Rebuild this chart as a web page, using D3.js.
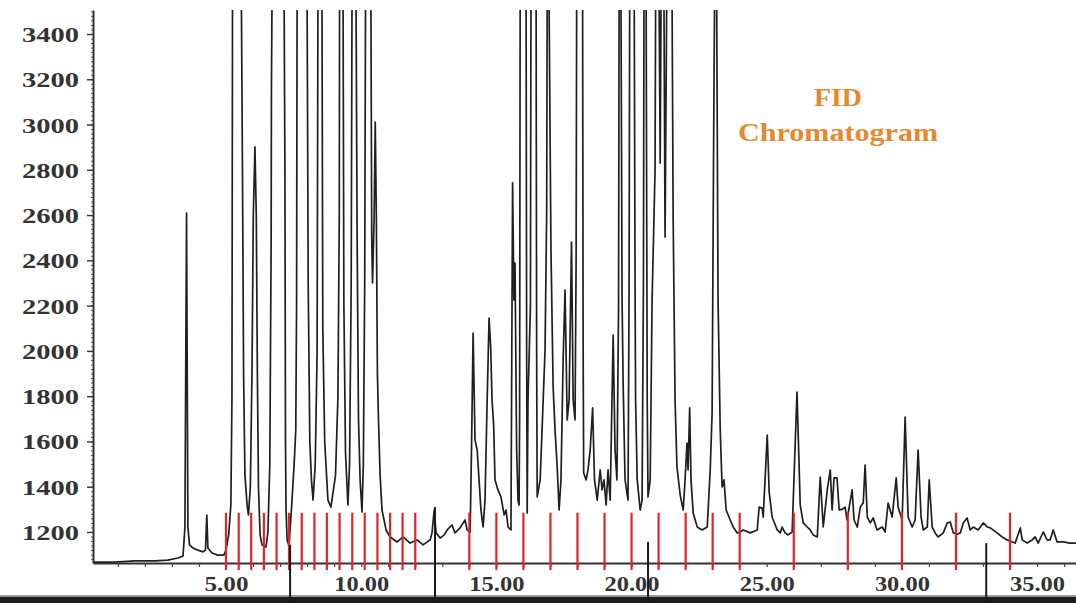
<!DOCTYPE html>
<html>
<head>
<meta charset="utf-8">
<script src="https://cdn.jsdelivr.net/npm/d3@7"></script>
<style>
  html, body { margin: 0; padding: 0; background: #fff; }
  svg { display: block; }
</style>
</head>
<body>
<svg id="chart" width="1076" height="603"></svg>
<script>
// FID trace: [retention time (min), detector response]
const trace = [
  [0.08,1067],[0.89,1067],[1.63,1072],[2.37,1072],[2.85,1076],[3.22,1085],[3.41,1094],
  [3.48,1222],[3.54,2609],[3.59,1222],[3.65,1143],[3.78,1129],[3.96,1120],[4.15,1112],
  [4.24,1120],[4.29,1275],[4.33,1129],[4.48,1107],[4.70,1098],[4.92,1098],
  [5.00,1120],[5.10,1190],[5.18,1320],[5.22,1800],[5.24,3528],[5.41,4300],[5.57,3528],
  [5.61,2768],[5.65,1900],[5.70,1450],[5.78,1319],[5.83,1275],
  [5.90,1400],[5.96,1900],[6.01,2600],[6.07,2901],[6.12,2600],[6.16,1900],[6.20,1400],
  [6.26,1187],[6.33,1143],[6.48,1134],
  [6.55,1200],[6.62,1500],[6.67,2500],[6.68,3153],[6.70,3528],[6.92,4600],[7.15,3528],
  [7.18,2768],[7.20,1600],[7.22,1300],[7.26,1165],[7.33,1138],
  [7.42,1300],[7.52,1500],[7.58,1650],[7.61,2200],[7.63,3528],[7.81,4400],[8.00,3528],
  [8.04,2300],[8.10,1600],[8.16,1430],[8.22,1341],
  [8.30,1500],[8.37,2000],[8.40,3528],[8.48,4200],[8.55,3528],[8.58,2100],[8.65,1600],
  [8.77,1341],[8.88,1310],
  [9.05,1450],[9.14,1800],[9.19,2600],[9.20,3528],[9.25,4300],[9.33,3528],[9.36,2200],
  [9.42,1550],[9.51,1319],
  [9.57,1500],[9.63,2300],[9.66,3528],[9.74,4500],[9.81,3528],[9.85,2500],[9.90,1700],
  [9.96,1430],[10.03,1288],
  [10.08,1500],[10.13,2300],[10.16,3528],[10.25,4200],[10.36,3528],[10.39,2500],
  [10.42,2300],[10.48,2600],[10.52,3011],[10.56,2600],[10.60,1900],[10.64,1695],
  [10.70,1450],[10.77,1297],[10.92,1209],[11.07,1178],
  [11.33,1156],[11.55,1178],[11.81,1151],[12.07,1165],[12.29,1143],[12.55,1165],
  [12.62,1196],[12.70,1297],[12.77,1196],[12.92,1173],[13.07,1187],[13.18,1209],
  [13.36,1231],[13.47,1196],[13.66,1218],[13.84,1253],[13.92,1209],[14.03,1200],
  [14.08,1562],[14.14,2079],[14.21,1606],[14.29,1562],[14.36,1430],[14.43,1297],
  [14.51,1222],[14.58,1341],[14.66,1783],[14.73,2145],[14.79,2017],[14.84,1783],
  [14.90,1673],[14.95,1430],[15.06,1386],[15.17,1355],[15.29,1275],[15.36,1297],
  [15.43,1222],[15.54,1209],[15.60,2742],[15.65,2225],[15.69,2388],[15.75,1562],
  [15.80,1341],[15.84,1319],[15.86,1700],[15.88,3528],[15.99,4300],[16.10,3528],
  [16.12,2000],[16.14,1284],[16.17,1783],[16.26,2200],[16.28,3528],[16.38,4400],
  [16.47,3528],[16.49,2000],[16.51,1355],[16.62,1430],
  [16.80,2000],[16.86,2600],[16.88,3528],[16.91,4000],[16.95,3528],[17.02,2446],[17.10,1841],
  [17.17,1651],[17.25,1487],[17.32,1297],[17.39,1430],[17.47,1960],[17.54,2269],
  [17.62,1695],[17.69,1783],[17.78,2481],[17.84,1783],[17.91,1695],[17.95,2400],[17.97,3528],
  [18.08,4600],[18.19,3528],[18.21,2000],[18.23,1461],[18.32,1430],[18.39,1474],[18.47,1562],
  [18.56,1748],[18.63,1430],[18.73,1341],[18.84,1474],[18.91,1386],[18.98,1430],
  [19.06,1319],[19.13,1474],[19.21,1341],[19.32,2070],[19.39,1562],[19.46,1430],
  [19.52,2200],[19.54,3528],[19.58,4000],[19.61,3528],[19.65,2225],[19.69,1849],[19.76,1430],
  [19.87,1341],[19.91,2300],[19.93,3528],[20.02,4500],[20.10,3528],[20.13,2300],[20.15,1783],[20.21,1430],
  [20.32,1297],[20.39,1341],[20.44,2300],[20.46,3528],[20.50,4000],[20.54,3528],[20.58,1783],
  [20.61,1355],[20.69,1430],[20.76,2225],[20.87,2800],[20.89,3528],[20.96,4200],[21.02,3528],
  [21.06,2830],[21.09,3528],[21.15,4200],[21.20,3528],[21.24,2503],[21.30,3528],
  [21.39,4600],[21.50,3528],[21.54,2578],[21.61,1783],[21.68,1487],[21.80,1363],
  [21.91,1297],[21.98,1430],[22.05,1593],[22.09,1474],[22.15,1748],[22.20,1430],
  [22.28,1284],[22.43,1222],[22.61,1209],[22.80,1222],[22.91,1474],[22.98,1726],
  [23.04,2989],[23.07,3528],[23.11,4400],[23.15,3528],[23.20,2225],[23.28,1651],
  [23.35,1399],[23.42,1430],[23.50,1297],[23.65,1253],
  [23.76,1222],[23.91,1196],[24.02,1200],[24.13,1209],[24.39,1196],[24.65,1209],
  [24.72,1310],[24.83,1306],[24.87,1266],[25.02,1628],[25.09,1377],[25.20,1266],
  [25.39,1209],[25.50,1196],[25.57,1222],[25.68,1196],[25.79,1187],[25.94,1200],
  [26.12,1818],[26.24,1319],[26.35,1240],[26.50,1222],[26.61,1209],[26.72,1187],
  [26.87,1178],[26.98,1443],[27.09,1222],[27.24,1386],[27.35,1474],[27.42,1297],
  [27.49,1439],[27.60,1439],[27.68,1297],[27.79,1300],[27.90,1310],[27.97,1253],
  [28.16,1386],[28.23,1253],[28.35,1222],[28.46,1310],[28.57,1328],[28.64,1496],
  [28.72,1266],[28.83,1240],[28.94,1262],[29.08,1209],[29.27,1222],[29.38,1200],
  [29.49,1328],[29.64,1266],[29.79,1439],[29.86,1310],[30.01,1253],[30.12,1708],
  [30.23,1266],[30.38,1222],[30.49,1253],[30.60,1562],[30.71,1266],[30.79,1209],
  [30.94,1222],[31.01,1430],[31.12,1222],[31.23,1196],[31.34,1178],[31.53,1196],
  [31.68,1240],[31.79,1244],[31.90,1196],[32.05,1190],[32.16,1196],[32.27,1240],
  [32.41,1262],[32.53,1209],[32.64,1222],[32.82,1209],[33.01,1240],[33.16,1222],
  [33.27,1218],[33.52,1196],[33.71,1178],[33.89,1165],[34.08,1156],[34.19,1151],
  [34.38,1218],[34.45,1165],[34.63,1151],[34.82,1165],[34.93,1178],[35.04,1151],
  [35.23,1200],[35.37,1165],[35.48,1165],[35.60,1209],[35.74,1156],[35.97,1156],
  [36.22,1151],[36.44,1151]
];

// retention-index markers (min)
const markerTimes = [
  5.00, 5.47, 5.93, 6.40, 6.87, 7.33, 7.80, 8.27, 8.73, 9.20, 9.67, 10.13, 10.60, 11.07, 11.53, 12.00,
  14, 15, 16, 17, 18, 19, 20, 21, 22, 23, 24, 26, 28, 30, 32, 34
];
const markerTop = 1285;
const markerBottom = 1032;

// axis ticks
const yTicks = [1200, 1400, 1600, 1800, 2000, 2200, 2400, 2600, 2800, 3000, 3200, 3400];
const yMinorTicks = d3.range(1080, 3501, 20);
const xTicks = [5, 10, 15, 20, 25, 30, 35];
const xMinorTicks = d3.range(1, 37, 1);

// window dividers of the acquisition software: time and upper end
const dividerTimes = [7.37, 12.73, 20.61, 33.12];
const dividerTops = [1143, 1310, 1156, 1151];

const svg = d3.select("#chart");
const W = 1076, H = 603;
const plotLeft = 93, plotRight = 1076, plotTop = 10, plotBottom = 563;

const x = d3.scaleLinear().domain([0.08, 36.44]).range([plotLeft, plotRight]);
const y = d3.scaleLinear().domain([1063, 3506]).range([plotBottom, plotTop]);

svg.append("rect").attr("width", W).attr("height", H).attr("fill", "#fff");

svg.append("defs").append("clipPath").attr("id", "plotClip")
  .append("rect").attr("x", plotLeft).attr("y", plotTop)
  .attr("width", plotRight - plotLeft).attr("height", plotBottom - plotTop + 2);

// bottom strip of the software window
svg.append("rect").attr("x", 0).attr("y", 597).attr("width", W).attr("height", 6).attr("fill", "#1c1c1c");
svg.append("rect").attr("x", 0).attr("y", 595).attr("width", W).attr("height", 2).attr("fill", "#9a9a9a");

// chromatogram trace
const line = d3.line().x(d => x(d[0])).y(d => y(d[1]));
svg.append("path")
  .datum(trace)
  .attr("clip-path", "url(#plotClip)")
  .attr("fill", "none")
  .attr("stroke", "#1f1f1f")
  .attr("stroke-width", 1.7)
  .attr("stroke-linejoin", "round")
  .attr("d", line);

// x axis
const xAxisG = svg.append("g").attr("transform", `translate(0,${plotBottom})`);
xAxisG.call(d3.axisBottom(x).tickValues(xMinorTicks).tickSize(4).tickSizeOuter(0).tickFormat(""));
xAxisG.select(".domain").attr("stroke", "#333").attr("stroke-width", 1.8);
xAxisG.selectAll(".tick line").attr("stroke", "#444").attr("stroke-width", 1.2);

const xLabelG = svg.append("g").attr("transform", `translate(0,${plotBottom})`);
xLabelG.call(d3.axisBottom(x).tickValues(xTicks).tickSize(0).tickFormat(d3.format(".2f")));
xLabelG.select(".domain").remove();
xLabelG.selectAll("text")
  .attr("y", 28).attr("dy", 0)
  .attr("font-family", "'Liberation Serif', 'Times New Roman', serif")
  .attr("font-weight", "bold")
  .attr("font-size", 22)
  .attr("fill", "#333")
  .attr("textLength", d => d < 10 ? 44 : 55)
  .attr("lengthAdjust", "spacingAndGlyphs");

// red markers
svg.append("g").selectAll("line")
  .data(markerTimes)
  .join("line")
  .attr("x1", d => x(d)).attr("x2", d => x(d))
  .attr("y1", y(markerTop)).attr("y2", y(markerBottom))
  .attr("stroke", "#e0242c")
  .attr("stroke-width", 2.2);

// y axis
const yAxisG = svg.append("g").attr("transform", `translate(${plotLeft},0)`);
yAxisG.call(d3.axisLeft(y).tickValues(yMinorTicks).tickSize(2).tickSizeOuter(0).tickFormat(""));
yAxisG.select(".domain").attr("stroke", "#333").attr("stroke-width", 2);
yAxisG.selectAll(".tick line").attr("stroke", "#555").attr("stroke-width", 1);

const yLabelG = svg.append("g").attr("transform", `translate(${plotLeft},0)`);
yLabelG.call(d3.axisLeft(y).tickValues(yTicks).tickSize(6).tickPadding(8).tickFormat(d3.format("d")));
yLabelG.select(".domain").remove();
yLabelG.selectAll(".tick line").attr("stroke", "#333").attr("stroke-width", 1.4);
yLabelG.selectAll("text")
  .attr("dy", "0.34em")
  .attr("font-family", "'Liberation Serif', 'Times New Roman', serif")
  .attr("font-weight", "bold")
  .attr("font-size", 22)
  .attr("fill", "#333")
  .attr("textLength", 57)
  .attr("lengthAdjust", "spacingAndGlyphs");

// window dividers
svg.append("g").selectAll("line")
  .data(dividerTimes)
  .join("line")
  .attr("x1", d => x(d)).attr("x2", d => x(d))
  .attr("y1", (d, i) => y(dividerTops[i])).attr("y2", H)
  .attr("stroke", "#1a1a1a")
  .attr("stroke-width", 2);

// title
const title = svg.append("g")
  .attr("font-family", "'Liberation Serif', 'Times New Roman', serif")
  .attr("font-weight", "bold")
  .attr("font-size", 25)
  .attr("fill", "#e8882c")
  .attr("text-anchor", "middle");
title.append("text").attr("x", 838).attr("y", 106).attr("textLength", 48).attr("lengthAdjust", "spacingAndGlyphs").text("FID");
title.append("text").attr("x", 838).attr("y", 141).attr("textLength", 200).attr("lengthAdjust", "spacingAndGlyphs").text("Chromatogram");
</script>
</body>
</html>
